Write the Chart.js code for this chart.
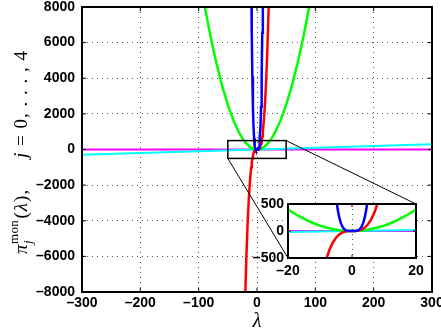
<!DOCTYPE html>
<html>
<head>
<meta charset="utf-8">
<script src="https://cdn.jsdelivr.net/npm/chart.js@4/dist/chart.umd.min.js"></script>
<style>
  html, body { margin: 0; padding: 0; background: #fff; }
  #wrap { position: relative; width: 441px; height: 332px; }
  #main { position: absolute; left: 0; top: 0; }
  #inset { position: absolute; left: 240px; top: 190px; }
</style>
</head>
<body>
<div id="wrap">
  <canvas id="main" width="441" height="332"></canvas>
  <canvas id="inset" width="200" height="90"></canvas>
</div>
<script>
// values, pi_j^mon(lambda) for j = 0..4
const lam0 = [-300, 300];
const mon0 = [1, 1];
const lam1 = [-300, 300];
const mon1 = [-300, 300];
const lam2 = [-100,-90,-80,-70,-60,-50,-40,-30,-25,-20,-18,-16,-14,-12,-10,-8,-6,-4,-2,0,2,4,6,8,10,12,14,16,18,20,25,30,40,50,60,70,80,90,100];
const mon2 = [10000,8100,6400,4900,3600,2500,1600,900,625,400,324,256,196,144,100,64,36,16,4,0,4,16,36,64,100,144,196,256,324,400,625,900,1600,2500,3600,4900,6400,8100,10000];
const lam3 = [-22,-20,-18,-16,-14,-12,-10,-9,-8,-7,-6,-5,-4,-3,-2,-1,0,1,2,3,4,5,6,7,8,9,10,12,14,16,18,20,22];
const mon3 = [-10648,-8000,-5832,-4096,-2744,-1728,-1000,-729,-512,-343,-216,-125,-64,-27,-8,-1,0,1,8,27,64,125,216,343,512,729,1000,1728,2744,4096,5832,8000,10648];
const lam4 = [-11,-10,-9,-8,-7,-6,-5,-4.5,-4,-3.5,-3,-2.5,-2,-1.5,-1,-0.5,0,0.5,1,1.5,2,2.5,3,3.5,4,4.5,5,6,7,8,9,10,11];
const mon4 = [14641,10000,6561,4096,2401,1296,625,410,256,150,81,39,16,5,1,0,0,0,1,5,16,39,81,150,256,410,625,1296,2401,4096,6561,10000,14641];

// tick labels
const mainXTicks = [-300, -200, -100, 0, 100, 200, 300];
const mainYTicks = [-8000, -6000, -4000, -2000, 0, 2000, 4000, 6000, 8000];
const insetXTicks = [-20, 0, 20];
const insetYTicks = [-500, 0, 500];

// zoomed region marked on the main axes
const zoomBoxX = [-50, 50];
const zoomBoxY = [-500, 500];

const lineColors = ['#ff00ff', '#00ffff', '#00ff00', '#ff0000', '#0000ff'];
const lineWidths = [2, 2, 2.5, 2.5, 2.5];
const tickFont = { family: '"Liberation Sans", Arial, sans-serif', size: 14, weight: 'bold' };
const serif = '"Liberation Serif", "DejaVu Serif", serif';
const fmt = v => String(v).replace('-', '\u2013');

function makeDatasets() {
  const L = [lam0, lam1, lam2, lam3, lam4];
  const M = [mon0, mon1, mon2, mon3, mon4];
  return L.map((xs, j) => ({
    data: xs.map((x, i) => ({ x: x, y: M[j][i] })),
    borderColor: lineColors[j],
    borderWidth: lineWidths[j],
    pointRadius: 0,
    tension: 0,
    order: 4 - j
  }));
}

// box round the axes plus inward tick marks, like matlab
function framePlugin(len) {
  return {
    id: 'frame',
    afterDatasetsDraw(chart) {
      const { ctx, chartArea: a, scales: { x, y } } = chart;
      ctx.save();
      ctx.strokeStyle = '#000';
      ctx.lineWidth = 1;
      ctx.beginPath();
      x.ticks.forEach(t => {
        const p = x.getPixelForValue(t.value);
        ctx.moveTo(p, a.bottom); ctx.lineTo(p, a.bottom - len);
        ctx.moveTo(p, a.top); ctx.lineTo(p, a.top + len);
      });
      y.ticks.forEach(t => {
        const p = y.getPixelForValue(t.value);
        ctx.moveTo(a.left, p); ctx.lineTo(a.left + len, p);
        ctx.moveTo(a.right, p); ctx.lineTo(a.right - len, p);
      });
      ctx.stroke();
      ctx.lineWidth = 2;
      ctx.strokeRect(a.left, a.top, a.right - a.left, a.bottom - a.top);
      ctx.restore();
    }
  };
}

function axisOpts(ticks, min, max, fit) {
  return {
    type: 'linear', min: min, max: max,
    afterBuildTicks: s => { s.ticks = ticks.map(v => ({ value: v })); },
    afterFit: fit,
    grid: { color: '#555', lineWidth: 1, drawTicks: false },
    border: { display: false, dash: [1, 4] },
    ticks: { color: '#000', font: tickFont, autoSkip: false, maxRotation: 0, callback: fmt }
  };
}

// INSET
const insetX = axisOpts(insetXTicks, -20, 20, s => { s.height = 22; s.paddingLeft = 0; s.paddingRight = 0; });
insetX.ticks.padding = 5;
const insetY = axisOpts(insetYTicks, -500, 500, s => { s.width = 48; s.paddingTop = 0; s.paddingBottom = 0; });
insetY.ticks.padding = 4;

const insetChart = new Chart(document.getElementById('inset'), {
  type: 'line',
  data: { datasets: makeDatasets() },
  options: {
    responsive: false, animation: false, events: [],
    layout: { padding: { left: 0, right: 24, top: 14, bottom: 0 } },
    plugins: { legend: { display: false }, tooltip: { enabled: false } },
    scales: { x: insetX, y: insetY }
  },
  plugins: [{
    id: 'whiteBg',
    beforeDraw(chart) {
      const { ctx, chartArea: a } = chart;
      ctx.save();
      ctx.fillStyle = '#fff';
      ctx.fillRect(a.left, a.top, a.right - a.left, a.bottom - a.top);
      ctx.restore();
    }
  }, framePlugin(3)]
});

// MAIN
const mainX = axisOpts(mainXTicks, -300, 300, s => { s.height = 40; s.paddingLeft = 0; s.paddingRight = 0; });
mainX.ticks.padding = 3;
const mainY = axisOpts(mainYTicks, -8000, 8000, s => { s.width = 82; s.paddingTop = 0; s.paddingBottom = 0; });
mainY.ticks.padding = 7;

new Chart(document.getElementById('main'), {
  type: 'line',
  data: { datasets: makeDatasets() },
  options: {
    responsive: false, animation: false, events: [],
    layout: { padding: { left: 0, right: 9, top: 7, bottom: 0 } },
    plugins: { legend: { display: false }, tooltip: { enabled: false } },
    scales: { x: mainX, y: mainY }
  },
  plugins: [framePlugin(4), {
    id: 'zoomBox',
    afterDatasetsDraw(chart) {
      const { ctx, scales: { x, y } } = chart;
      const l = x.getPixelForValue(zoomBoxX[0]), r = x.getPixelForValue(zoomBoxX[1]);
      const t = y.getPixelForValue(zoomBoxY[1]), b = y.getPixelForValue(zoomBoxY[0]);
      const ia = insetChart.chartArea, ox = 240, oy = 190;
      ctx.save();
      ctx.strokeStyle = '#000';
      ctx.lineWidth = 1.5;
      ctx.strokeRect(l, t, r - l, b - t);
      ctx.lineWidth = 1;
      ctx.beginPath();
      ctx.moveTo(r, t); ctx.lineTo(ox + ia.right, oy + ia.top);
      ctx.moveTo(l, b); ctx.lineTo(ox + ia.left, oy + ia.bottom);
      ctx.stroke();
      ctx.restore();
    }
  }, {
    id: 'labels',
    afterDraw(chart) {
      const ctx = chart.ctx;
      const big = 19, small = 13;
      const it = s => `italic ${s}px ${serif}`, rm = s => `${s}px ${serif}`;
      ctx.save();
      ctx.fillStyle = '#000';
      ctx.textBaseline = 'alphabetic';
      ctx.textAlign = 'left';
      // x label
      ctx.font = it(20);
      const wl = ctx.measureText('\u03bb').width;
      ctx.fillText('\u03bb', chart.scales.x.getPixelForValue(0) - wl / 2, 327);
      // y label, rotated: rotated x = -(screen y)
      ctx.translate(27, 0);
      ctx.rotate(-Math.PI / 2);
      let px = 0;
      // draw one run char by char with extra spacing, returns advance
      const run = (txt, font, gap, dy, draw) => {
        ctx.font = font;
        let w = 0;
        for (const ch of txt) {
          if (draw) ctx.fillText(ch, px + w, dy || 0);
          w += ctx.measureText(ch).width + gap;
        }
        return w;
      };
      px = -254;
      px += run('\u03c0', it(big), 0.5, 0, true);
      const wSub = run('j', it(small), 0, 5, true);
      const wSup = run('mon', rm(small), 0.3, -9, true);
      px += Math.max(wSub, wSup) + 1.5;
      px += run('(', rm(big), 1, 0, true);
      px += run('\u03bb', it(big), 1, 0, true);
      px += run('),', rm(big), 1, 0, true);
      // second part ends at screen y = 50
      const pieces = [['j', it(big)], [' = 0, . . . , 4', rm(big)]];
      const gapB = 1;
      let total = 0;
      pieces.forEach(p => { total += run(p[0], p[1], gapB, 0, false); });
      px = -50 - total;
      pieces.forEach(p => { px += run(p[0], p[1], gapB, 0, true); });
      ctx.restore();
    }
  }]
});
</script>
</body>
</html>
